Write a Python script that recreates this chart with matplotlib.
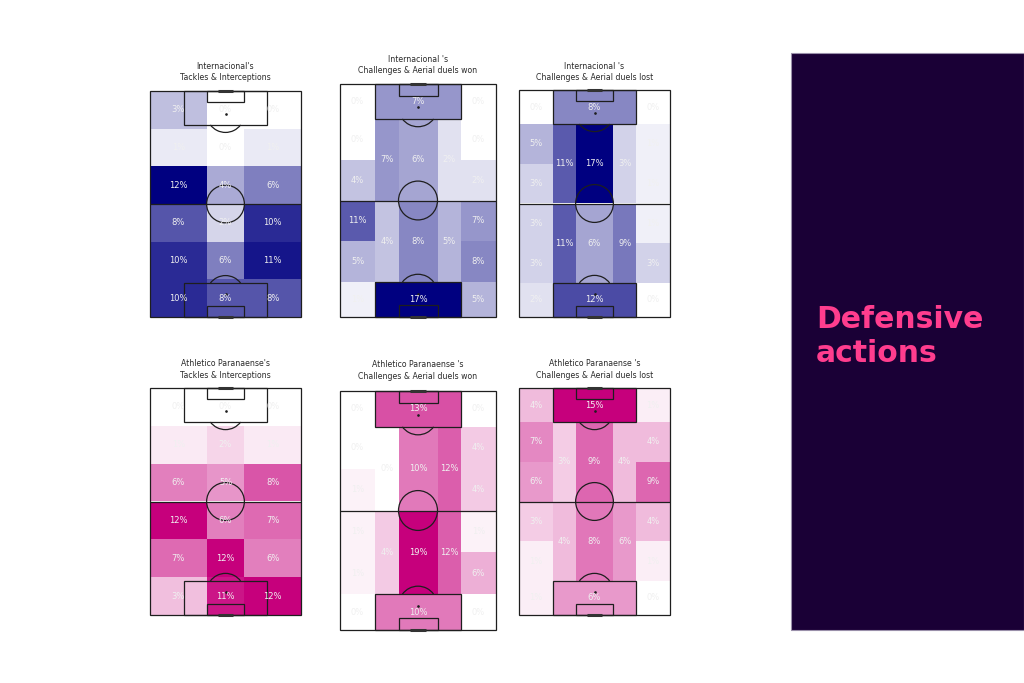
import matplotlib
matplotlib.use("Agg")
import matplotlib.pyplot as plt
from matplotlib.patches import Rectangle, Arc, Circle
from matplotlib.colors import LinearSegmentedColormap, Normalize

# ---------------- data (percent of actions per zone) ----------------
# 3x6 grids: rows listed from top of pitch to bottom, columns left/centre/right
inter_tackles = [
    [3, 0, 0],
    [1, 0, 1],
    [12, 4, 6],
    [8, 2, 10],
    [10, 6, 11],
    [10, 8, 8],
]
athletico_tackles = [
    [0, 0, 0],
    [1, 2, 1],
    [6, 5, 8],
    [12, 6, 7],
    [7, 12, 6],
    [3, 11, 12],
]

# positional zones: wide lanes = [top corner, 4 middle zones, bottom corner]
inter_won_top_box, inter_won_bottom_box = 7, 17
inter_won_left_wide = [0, 0, 4, 11, 5, 1]
inter_won_right_wide = [0, 0, 2, 7, 8, 5]
inter_won_left_half = [7, 4]
inter_won_center = [6, 8]
inter_won_right_half = [2, 5]

inter_lost_top_box, inter_lost_bottom_box = 8, 12
inter_lost_left_wide = [0, 5, 3, 3, 3, 2]
inter_lost_right_wide = [0, 1, 1, 1, 3, 0]
inter_lost_left_half = [11, 11]
inter_lost_center = [17, 6]
inter_lost_right_half = [3, 9]

cap_won_top_box, cap_won_bottom_box = 13, 10
cap_won_left_wide = [0, 0, 1, 1, 1, 0]
cap_won_right_wide = [0, 4, 4, 1, 6, 0]
cap_won_left_half = [0, 4]
cap_won_center = [10, 19]
cap_won_right_half = [12, 12]

cap_lost_top_box, cap_lost_bottom_box = 15, 6
cap_lost_left_wide = [4, 7, 6, 3, 1, 1]
cap_lost_right_wide = [1, 4, 9, 4, 1, 0]
cap_lost_left_half = [3, 4]
cap_lost_center = [9, 8]
cap_lost_right_half = [4, 6]

titles = [
    "Internacional's\nTackles & Interceptions",
    "Internacional 's\nChallenges & Aerial duels won",
    "Internacional 's\nChallenges & Aerial duels lost",
    "Athletico Paranaense's\nTackles & Interceptions",
    "Athletico Paranaense 's\nChallenges & Aerial duels won",
    "Athletico Paranaense 's\nChallenges & Aerial duels lost",
]
panel_text = ["Defensive", "actions"]

# ---------------- styling ----------------
W, H = 1024, 683
BLUE = LinearSegmentedColormap.from_list("blue", ["#ffffff", "#000080"])
PINK = LinearSegmentedColormap.from_list("pink", ["#ffffff", "#c6007c"])
LINE = "#1e1e1e"

fig = plt.figure(figsize=(W / 100, H / 100), dpi=100)
fig.patch.set_facecolor("white")


def px_axes(x0, y0, x1, y1):
    ax = fig.add_axes([x0 / W, 1 - y1 / H, (x1 - x0) / W, (y1 - y0) / H])
    ax.set_xlim(0, 80)
    ax.set_ylim(120, 0)
    ax.axis("off")
    return ax


def draw_pitch(ax):
    kw = dict(fill=False, ec=LINE, lw=0.9, zorder=3, clip_on=False)
    ax.add_patch(Rectangle((0, 0), 80, 120, **kw))
    ax.plot([0, 80], [60, 60], color=LINE, lw=0.9, zorder=3)
    ax.add_patch(Circle((40, 60), 10, **kw))
    for y0, sy in ((0, 1), (120, -1)):
        ax.add_patch(Rectangle((18, y0 if sy == 1 else y0 - 18), 44, 18, **kw))
        ax.add_patch(Rectangle((30, y0 if sy == 1 else y0 - 6), 20, 6, **kw))
        spot = y0 + sy * 12
        ax.plot([40], [spot], marker="o", ms=0.9, color=LINE, zorder=3)
        if sy == 1:
            ax.add_patch(Arc((40, spot), 20, 20, theta1=36.87, theta2=143.13,
                             color=LINE, lw=0.9, zorder=3))
        else:
            ax.add_patch(Arc((40, spot), 20, 20, theta1=216.87, theta2=323.13,
                             color=LINE, lw=0.9, zorder=3))
        ax.plot([36, 44], [y0, y0], color="#333333", lw=2.2, zorder=3,
                solid_capstyle="butt", clip_on=False)


def zone(ax, x0, x1, y0, y1, v, cmap, norm):
    ax.add_patch(Rectangle((x0, y0), x1 - x0, y1 - y0, fc=cmap(norm(v)),
                           ec="none", zorder=1))
    ax.text((x0 + x1) / 2, (y0 + y1) / 2, f"{v}%", ha="center", va="center",
            fontsize=6, color="#f0f0f0", zorder=4)


def grid_pitch(ax, vals, cmap):
    norm = Normalize(0, max(max(r) for r in vals))
    xs = [0, 30, 50, 80]
    for i, row in enumerate(vals):
        for j, v in enumerate(row):
            zone(ax, xs[j], xs[j + 1], i * 20, (i + 1) * 20, v, cmap, norm)
    draw_pitch(ax)


def positional_pitch(ax, top_box, bottom_box, lw_, rw_, lh, ce, rh, cmap):
    allv = [top_box, bottom_box] + lw_ + rw_ + lh + ce + rh
    norm = Normalize(0, max(allv))
    wide_y = [0, 18, 39, 60, 81, 102, 120]
    for k in range(6):
        zone(ax, 0, 18, wide_y[k], wide_y[k + 1], lw_[k], cmap, norm)
        zone(ax, 62, 80, wide_y[k], wide_y[k + 1], rw_[k], cmap, norm)
    zone(ax, 18, 62, 0, 18, top_box, cmap, norm)
    zone(ax, 18, 62, 102, 120, bottom_box, cmap, norm)
    half_y = [18, 60, 102]
    for k in range(2):
        zone(ax, 18, 30, half_y[k], half_y[k + 1], lh[k], cmap, norm)
        zone(ax, 30, 50, half_y[k], half_y[k + 1], ce[k], cmap, norm)
        zone(ax, 50, 62, half_y[k], half_y[k + 1], rh[k], cmap, norm)
    draw_pitch(ax)


# axes boxes in pixels (x0, y0, x1, y1) and title centre y
boxes = [
    (150, 91, 301, 317), (340, 84, 496, 317), (519, 90, 670, 317),
    (150, 388, 301, 615), (340, 391, 496, 630), (519, 388, 670, 615),
]
title_y = [72, 65, 72, 369.5, 370.5, 369.5]

axs = [px_axes(*b) for b in boxes]
grid_pitch(axs[0], inter_tackles, BLUE)
positional_pitch(axs[1], inter_won_top_box, inter_won_bottom_box,
                 inter_won_left_wide, inter_won_right_wide,
                 inter_won_left_half, inter_won_center, inter_won_right_half, BLUE)
positional_pitch(axs[2], inter_lost_top_box, inter_lost_bottom_box,
                 inter_lost_left_wide, inter_lost_right_wide,
                 inter_lost_left_half, inter_lost_center, inter_lost_right_half, BLUE)
grid_pitch(axs[3], athletico_tackles, PINK)
positional_pitch(axs[4], cap_won_top_box, cap_won_bottom_box,
                 cap_won_left_wide, cap_won_right_wide,
                 cap_won_left_half, cap_won_center, cap_won_right_half, PINK)
positional_pitch(axs[5], cap_lost_top_box, cap_lost_bottom_box,
                 cap_lost_left_wide, cap_lost_right_wide,
                 cap_lost_left_half, cap_lost_center, cap_lost_right_half, PINK)

for b, ty, t in zip(boxes, title_y, titles):
    fig.text((b[0] + b[2]) / 2 / W, 1 - ty / H, t, ha="center", va="center",
             fontsize=5.6, color="#2a2a2a", linespacing=1.3)

# right-hand panel
fig.patches.append(Rectangle((791 / W, 1 - 630 / H), (W - 791) / W, (630 - 53) / H,
                             transform=fig.transFigure, fc="#1a0036",
                             ec="#9a90aa", lw=0.8, zorder=0))
for txt, base in zip(panel_text, (328, 362)):
    fig.text(816 / W, 1 - base / H, txt, fontsize=21.5, fontweight="bold",
             family=["DejaVu Sans"], color="#ff3d8e", va="baseline", ha="left")

fig.savefig("out.png", dpi=100, facecolor="white")
